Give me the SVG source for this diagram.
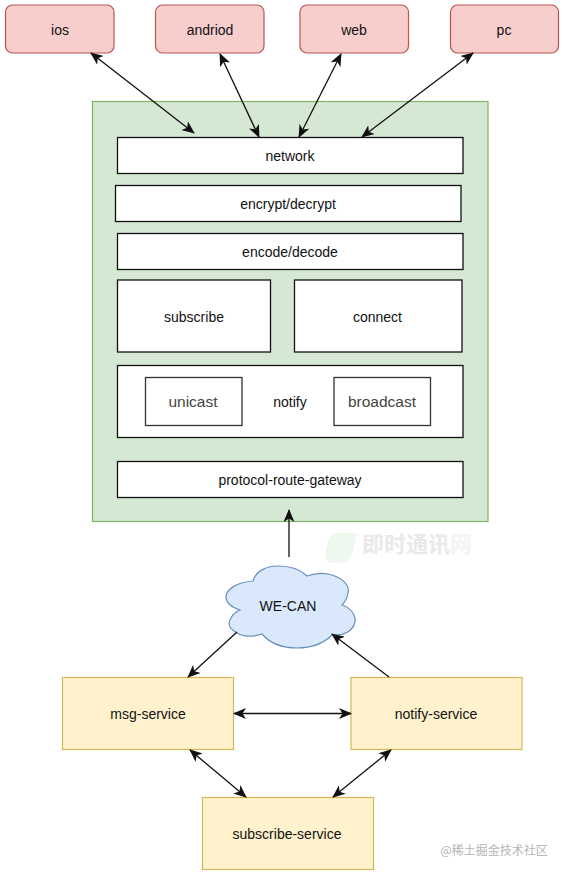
<svg xmlns="http://www.w3.org/2000/svg" width="565" height="876" viewBox="0 0 565 876">
<style>
text{font-family:"Liberation Sans",Arial,sans-serif;font-size:14px;fill:#111;text-anchor:middle}
.client{fill:#f8cecc;stroke:#b85450;stroke-width:1.2}
.layer{fill:#fff;stroke:#111;stroke-width:1.3}
.inner{fill:#fff;stroke:#333;stroke-width:1.3}
.svc{fill:#fff2cc;stroke:#d6b656;stroke-width:1.2}
.link{fill:none;stroke:#111;stroke-width:1.3;marker-end:url(#arrow)}
.both{marker-start:url(#arrow)}
.gray{font-size:15.500px;fill:#444}
.wm{font-family:"Noto Sans CJK SC",sans-serif;font-size:22px;font-weight:700;text-anchor:start}
</style>
<defs>
<marker id="arrow" viewBox="0 0 13 11" refX="12" refY="5.500" markerWidth="13" markerHeight="11" markerUnits="userSpaceOnUse" orient="auto-start-reverse">
<path d="M0 0L13 5.500L0 11L3.500 5.500Z" fill="#111"/>
</marker>
</defs>
<rect width="565" height="876" fill="#fff"/>
<g id="watermarks">
<path d="M338 533h19l-4 18q-2 11-13 12h-9q-7-1-6-9l3-12q3-9 10-9Z" fill="#eef8ee"/>
<text class="wm" x="362" y="552" style="fill:#e9e9e9">即时通讯</text>
<text class="wm" x="450" y="552" style="fill:#f3f3f3">网</text>
<text x="494" y="855" style="font-family:'Noto Sans CJK SC',sans-serif;font-size:12px;fill:#b5b5b5">@稀土掘金技术社区</text>
</g>
<g id="gateway-container"><rect x="92.500" y="101.500" width="395.500" height="420" fill="#d5e8d4" stroke="#82b366" stroke-width="1.2"/></g>
<g id="ios"><rect class="client" x="5.500" y="5" width="108.500" height="48" rx="7"/><text x="60" y="35">ios</text></g>
<g id="andriod"><rect class="client" x="155.500" y="5" width="108.500" height="48" rx="7"/><text x="210" y="35">andriod</text></g>
<g id="web"><rect class="client" x="300" y="5" width="108.500" height="48" rx="7"/><text x="354" y="35">web</text></g>
<g id="pc"><rect class="client" x="450.500" y="5" width="108" height="48" rx="7"/><text x="504" y="35">pc</text></g>
<g id="network"><rect class="layer" x="117.500" y="137.500" width="345.500" height="36"/><text x="290" y="160.700">network</text></g>
<g id="encrypt"><rect class="layer" x="115.500" y="185.500" width="345.500" height="36"/><text x="288" y="208.700">encrypt/decrypt</text></g>
<g id="encode"><rect class="layer" x="117.500" y="233.500" width="345.500" height="36"/><text x="290" y="256.700">encode/decode</text></g>
<g id="subscribe"><rect class="layer" x="117.500" y="280" width="153" height="72"/><text x="194" y="321.700">subscribe</text></g>
<g id="connect"><rect class="layer" x="294.500" y="280" width="167.500" height="72"/><text x="377.500" y="321.700">connect</text></g>
<g id="notify"><rect class="layer" x="117.500" y="365.500" width="345.500" height="72"/><text x="290" y="407">notify</text></g>
<g id="unicast"><rect class="inner" x="145.500" y="377.500" width="96.500" height="48"/><text class="gray" x="193" y="407">unicast</text></g>
<g id="broadcast"><rect class="inner" x="334" y="377.500" width="96.500" height="48"/><text class="gray" x="382" y="407">broadcast</text></g>
<g id="protocol"><rect class="layer" x="117.500" y="461.500" width="345.500" height="36"/><text x="290" y="485">protocol-route-gateway</text></g>
<g id="we-can">
<path d="M253 581C256 570 268 566 278 566C291 566 301 570 307 576C315 573 322 573 328 574C342 577 350 585 348 593C347 599 345 602 342 605C351 608 356 615 355 622C353 631 344 636 332 635C322 645 310 648 297 648C281 648 269 642 262 634C253 637 243 637 237 633C230 629 228 624 230 620C232 615 235 612 240 610C231 607 226 603 226 597C226 589 238 582 253 581Z" fill="#dae8fc" stroke="#6c8ebf" stroke-width="1.2"/>
<text x="288" y="611">WE-CAN</text>
</g>
<g id="msg-service"><rect class="svc" x="62.500" y="677.500" width="171" height="72"/><text x="148" y="719">msg-service</text></g>
<g id="notify-service"><rect class="svc" x="351" y="677.500" width="171" height="72"/><text x="436" y="719">notify-service</text></g>
<g id="subscribe-service"><rect class="svc" x="202.500" y="797.500" width="171" height="72"/><text x="287" y="839">subscribe-service</text></g>
<g id="connectors">
<line class="link both" x1="91" y1="53" x2="194" y2="133"/>
<line class="link both" x1="220" y1="54" x2="259" y2="137"/>
<line class="link both" x1="341" y1="54" x2="299" y2="137"/>
<line class="link both" x1="473" y1="53" x2="362" y2="137"/>
<line class="link" x1="289" y1="557" x2="289" y2="510"/>
<line class="link" x1="237" y1="632" x2="188" y2="677"/>
<line class="link" x1="389" y1="677" x2="332" y2="634"/>
<line class="link both" x1="234" y1="713.500" x2="351" y2="713.500"/>
<line class="link both" x1="190" y1="750" x2="246" y2="797"/>
<line class="link both" x1="391" y1="750" x2="333" y2="797"/>
</g>
</svg>
